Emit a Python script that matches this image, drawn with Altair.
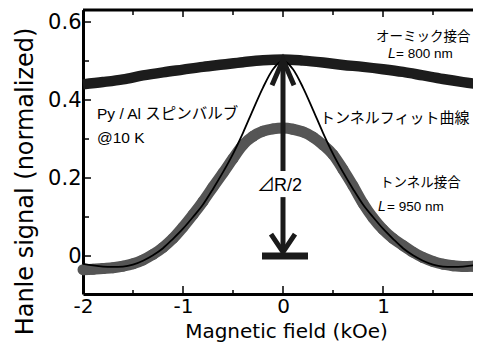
import altair as alt
import pandas as pd

# ---- data ----
FIELD_OHM = [-2.0, -1.8, -1.6, -1.4, -1.2, -1.0, -0.8, -0.6, -0.4, -0.2, 0.0,
             0.2, 0.4, 0.6, 0.8, 1.0, 1.2, 1.4, 1.6, 1.8, 2.0]
OHMIC = [0.440, 0.446, 0.453, 0.463, 0.471, 0.478, 0.485, 0.491, 0.497, 0.502, 0.504,
         0.501, 0.496, 0.490, 0.485, 0.479, 0.472, 0.463, 0.454, 0.446, 0.439]

FIELD_TUN = [-2.0, -1.9, -1.8, -1.7, -1.6, -1.5, -1.4, -1.3, -1.2, -1.1, -1.0,
             -0.9, -0.8, -0.7, -0.6, -0.5, -0.4, -0.3, -0.2, -0.1, 0.0,
             0.1, 0.2, 0.3, 0.4, 0.5, 0.6, 0.7, 0.8, 0.9, 1.0,
             1.1, 1.2, 1.3, 1.4, 1.5, 1.6, 1.7, 1.8, 1.9, 2.0]
TUNNEL = [-0.035, -0.034, -0.032, -0.030, -0.026, -0.020, -0.010, 0.004, 0.022, 0.045, 0.074,
          0.106, 0.140, 0.177, 0.213, 0.250, 0.285, 0.307, 0.320, 0.326, 0.328,
          0.325, 0.318, 0.305, 0.285, 0.260, 0.222, 0.180, 0.135, 0.098, 0.068,
          0.045, 0.027, 0.010, -0.004, -0.014, -0.021, -0.025, -0.027, -0.026, -0.024]

FIELD_FIT = [-2.0, -1.9, -1.8, -1.7, -1.6, -1.5, -1.4, -1.3, -1.2, -1.1, -1.0,
             -0.9, -0.8, -0.7, -0.6, -0.5, -0.4, -0.3, -0.2, -0.1, 0.0,
             0.1, 0.2, 0.3, 0.4, 0.5, 0.6, 0.7, 0.8, 0.9, 1.0,
             1.1, 1.2, 1.3, 1.4, 1.5, 1.6, 1.7, 1.8, 1.9, 2.0]
FIT = [-0.020, -0.024, -0.027, -0.028, -0.027, -0.022, -0.012, 0.002, 0.020, 0.044, 0.070,
       0.100, 0.132, 0.172, 0.215, 0.262, 0.316, 0.375, 0.432, 0.479, 0.500,
       0.479, 0.432, 0.375, 0.316, 0.262, 0.215, 0.172, 0.132, 0.100, 0.070,
       0.044, 0.020, 0.002, -0.012, -0.022, -0.027, -0.028, -0.027, -0.024, -0.020]

X_LABELS = [-2, -1, 0, 1]
X_MINOR = [-1.5, -0.5, 0.5, 1.5]
Y_LABELS = [0, 0.2, 0.4, 0.6]
Y_MINOR = [0.1, 0.3, 0.5]

# annotation arrow (data units)
ARROW_UP_X = [-0.11, 0.0, 0.11]
ARROW_UP_Y = [0.438, 0.503, 0.438]
ARROW_DN_X = [-0.12, 0.0, 0.12]
ARROW_DN_Y = [0.056, 0.010, 0.056]
SHAFT = [(0.503, 0.218), (0.151, 0.012)]
BAR_X = (-0.21, 0.25)
BAR_Y = 0.0

XDOM = [-2.0, 1.9]
YDOM = [-0.0974, 0.6308]
W, H = 390, 284

LATIN = "DejaVu Sans"
JP = "Liberation Sans, Noto Sans CJK JP"

X = alt.X("x:Q", scale=alt.Scale(domain=XDOM, nice=False, zero=False),
          axis=alt.Axis(values=X_LABELS, labelExpr="datum.value + ''",
                        labelFont=LATIN, labelFontSize=20, labelColor="black",
                        ticks=False, tickSize=0, grid=False, domain=True,
                        domainColor="black", domainWidth=3, labelPadding=2,
                        labelFlush=False, labelOverlap=False,
                        title="Magnetic field (kOe)", titleFont=LATIN, titleFontSize=20,
                        titleFontWeight="normal", titleColor="black",
                        titleX=203, titleY=43, titleBaseline="alphabetic",
                        titleAlign="center"))
Y = alt.Y("y:Q", scale=alt.Scale(domain=YDOM, nice=False, zero=False),
          axis=alt.Axis(values=Y_LABELS, labelExpr="datum.value + ''",
                        labelFont=LATIN, labelFontSize=21, labelColor="black",
                        ticks=False, tickSize=0, grid=False, domain=True,
                        domainColor="black", domainWidth=3, labelPadding=2,
                        labelFlush=False, labelOverlap=False,
                        title="Hanle signal (normalized)", titleFont=LATIN, titleFontSize=24,
                        titleFontWeight="normal", titleColor="black",
                        titleX=-51, titleY=171, titleBaseline="alphabetic",
                        titleAlign="center", titleAngle=270))

ohm_df = pd.DataFrame({"x": FIELD_OHM, "y": OHMIC})
tun_df = pd.DataFrame({"x": FIELD_TUN, "y": TUNNEL})
fit_df = pd.DataFrame({"x": FIELD_FIT, "y": FIT})

layers = []

# frame top line
layers.append(alt.Chart(pd.DataFrame({"x": [XDOM[0]], "y": [YDOM[1]]})).mark_rule(
    color="black", strokeWidth=3).encode(x=X, y=Y, x2=alt.value(W)))

# inward ticks
def xticks(vals, length, top):
    df = pd.DataFrame({"x": vals})
    if top:
        return alt.Chart(df).mark_rule(color="black", strokeWidth=1.5).encode(
            x=X, y=alt.value(0), y2=alt.value(length))
    return alt.Chart(df).mark_rule(color="black", strokeWidth=1.5).encode(
        x=X, y=alt.value(H), y2=alt.value(H - length))

def yticks(vals, length):
    df = pd.DataFrame({"y": vals})
    return alt.Chart(df).mark_rule(color="black", strokeWidth=1.5).encode(
        y=Y, x=alt.value(0), x2=alt.value(length))

layers += [xticks(X_LABELS, 8, False), xticks(X_MINOR, 4, False),
           xticks(X_LABELS, 7, True), xticks(X_MINOR, 5, True),
           yticks(Y_LABELS, 8), yticks(Y_MINOR, 6)]

# ohmic curve
layers.append(alt.Chart(ohm_df).mark_line(color="#1c1c1c", strokeWidth=10.5,
                                          strokeJoin="round", interpolate="monotone").encode(x=X, y=Y))
# tunnel data
layers.append(alt.Chart(tun_df).mark_line(color="#555555", strokeWidth=11,
                                          strokeJoin="round", interpolate="monotone").encode(x=X, y=Y))
layers.append(alt.Chart(tun_df).mark_circle(color="#555555", size=120, opacity=1).encode(x=X, y=Y))
# fit line
layers.append(alt.Chart(fit_df).mark_line(color="black", strokeWidth=1.8,
                                          interpolate="monotone").encode(x=X, y=Y))

# arrow
for (y1, y2) in SHAFT:
    layers.append(alt.Chart(pd.DataFrame({"x": [0.0], "y": [y1], "y2": [y2]})).mark_rule(
        color="#1a1a1a", strokeWidth=5).encode(x=X, y=Y, y2="y2:Q"))
layers.append(alt.Chart(pd.DataFrame({"x": ARROW_UP_X, "y": ARROW_UP_Y, "o": [0, 1, 2]})).mark_line(
    color="#1a1a1a", strokeWidth=5).encode(x=X, y=Y, order="o:Q"))
layers.append(alt.Chart(pd.DataFrame({"x": ARROW_DN_X, "y": ARROW_DN_Y, "o": [0, 1, 2]})).mark_line(
    color="#1a1a1a", strokeWidth=5).encode(x=X, y=Y, order="o:Q"))
layers.append(alt.Chart(pd.DataFrame({"x": [BAR_X[0]], "x2": [BAR_X[1]], "y": [BAR_Y]})).mark_rule(
    color="#1a1a1a", strokeWidth=7).encode(x=X, x2="x2:Q", y=Y))

# texts
def texts(rows, font, size, style="normal"):
    df = pd.DataFrame(rows, columns=["x", "y", "t"])
    return alt.Chart(df).mark_text(font=font, fontSize=size, fontStyle=style, align="left",
                                   baseline="middle", color="black").encode(x=X, y=Y, text="t:N")

layers.append(texts([(0.93, 0.562, "オーミック接合"), (1.13, 0.518, "= 800 nm"),
                     (0.97, 0.187, "トンネル接合"), (1.04, 0.126, "= 950 nm")], JP, 13.5))
layers.append(texts([(1.05, 0.518, "L"), (0.95, 0.126, "L")], "Liberation Sans", 14, "italic"))
layers.append(texts([(0.37, 0.354, "トンネルフィット曲線")], JP, 15))
layers.append(texts([(-1.86, 0.364, "Py / Al スピンバルブ"),
                     (-1.86, 0.303, "@10 K")], JP, 15.5))
layers.append(texts([(-0.26, 0.179, "⊿")], "Noto Sans CJK JP", 18))
layers.append(texts([(-0.09, 0.179, "R/2")], "Liberation Sans", 18))

chart = alt.layer(*layers).properties(
    width=W, height=H,
    autosize=alt.AutoSizeParams(type="none"),
    padding={"left": 75, "top": 2, "right": 0, "bottom": 48},
    background="white",
).configure_view(stroke=None)

chart.save("out.html", embed_options={"renderer": "svg", "actions": False})
